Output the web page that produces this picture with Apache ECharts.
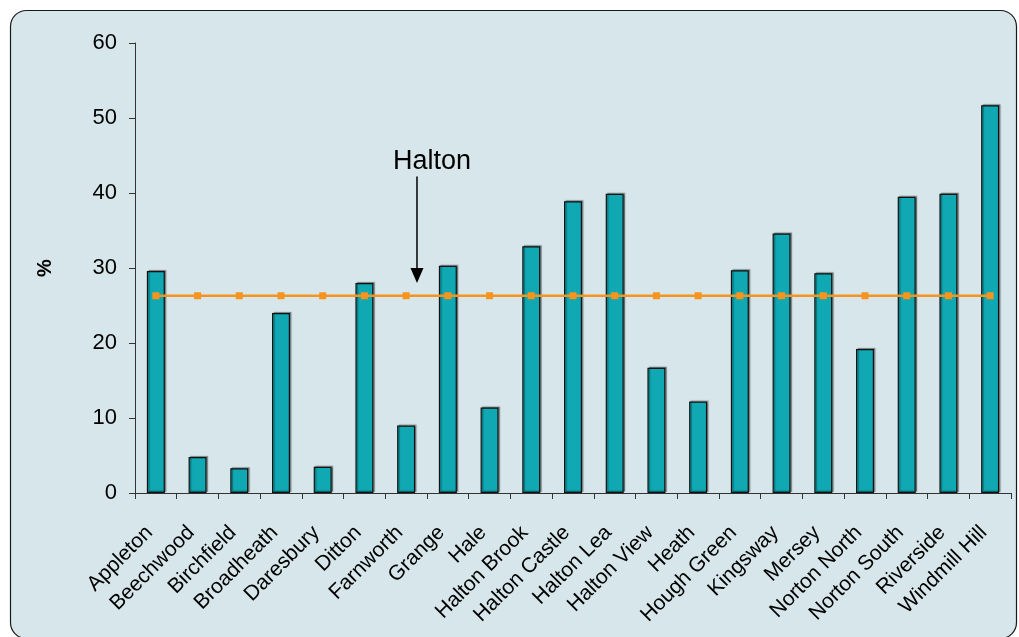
<!DOCTYPE html>
<html>
<head>
<meta charset="utf-8">
<script src="https://cdn.jsdelivr.net/npm/echarts@6/dist/echarts.min.js"></script>
<style>
html,body{margin:0;padding:0;background:#ffffff;}
#chart{width:1019px;height:637px;}
</style>
</head>
<body>
<div id="chart"></div>
<script>
const categories = ['Appleton','Beechwood','Birchfield','Broadheath','Daresbury','Ditton','Farnworth','Grange','Hale','Halton Brook','Halton Castle','Halton Lea','Halton View','Heath','Hough Green','Kingsway','Mersey','Norton North','Norton South','Riverside','Windmill Hill'];
const wardValues = [29.6,4.8,3.3,24.0,3.5,28.0,9.0,30.3,11.4,32.9,38.9,39.9,16.7,12.2,29.7,34.6,29.3,19.2,39.5,39.9,51.7];
const haltonAverage = 26.3;
const haltonValues = categories.map(() => haltonAverage);
const yTicks = { min: 0, max: 60, interval: 10 };
const annotation = { text: 'Halton', category: 'Farnworth', arrowTop: 42.2, arrowBottom: 28, textValue: 44.2 };

const chart = echarts.init(document.getElementById('chart'), null, { renderer: 'canvas' });
const font = 'Liberation Sans, Arial, sans-serif';

chart.setOption({
  backgroundColor: '#ffffff',
  animation: false,
  grid: { left: 135, right: 8, top: 43, bottom: 144, containLabel: false },
  xAxis: {
    type: 'category',
    data: categories,
    axisLine: { lineStyle: { color: '#333333', width: 1 } },
    axisTick: { show: true, length: 6, alignWithLabel: false, lineStyle: { color: '#333333' } },
    axisLabel: { rotate: 45, interval: 0, margin: 30, padding: [0, 9, 0, 0], color: '#000000', fontSize: 21, fontFamily: font }
  },
  yAxis: {
    type: 'value',
    min: yTicks.min, max: yTicks.max, interval: yTicks.interval,
    name: '%',
    nameLocation: 'middle',
    nameGap: 80,
    nameRotate: 90,
    nameTextStyle: { color: '#000000', fontSize: 20, fontWeight: 'bold', fontFamily: font },
    axisLine: { show: true, lineStyle: { color: '#333333', width: 1 } },
    axisTick: { show: true, length: 6, inside: false, lineStyle: { color: '#333333' } },
    splitLine: { show: false },
    axisLabel: { color: '#000000', fontSize: 22, fontFamily: font, margin: 18 }
  },
  series: [
    {
      type: 'bar',
      data: wardValues,
      barWidth: 18,
      itemStyle: {
        color: '#0fa8b3',
        borderColor: '#111111',
        borderWidth: 1.2,
        shadowColor: 'rgba(0,0,0,0.35)',
        shadowOffsetX: 1.5,
        shadowOffsetY: -1,
        shadowBlur: 1
      },
      z: 2
    },
    {
      type: 'line',
      data: haltonValues,
      symbol: 'rect',
      symbolSize: 7,
      lineStyle: { color: '#f7941d', width: 2.5 },
      itemStyle: { color: '#f7941d' },
      z: 3
    }
  ]
});

function drawExtras() {
  const x0 = chart.convertToPixel({ xAxisIndex: 0 }, annotation.category);
  const x1 = chart.convertToPixel({ xAxisIndex: 0 }, categories[categories.indexOf(annotation.category) + 1]);
  const ax = x0 + (x1 - x0) * 0.26;
  const yTop = chart.convertToPixel({ yAxisIndex: 0 }, annotation.arrowTop);
  const yBot = chart.convertToPixel({ yAxisIndex: 0 }, annotation.arrowBottom);
  const yText = chart.convertToPixel({ yAxisIndex: 0 }, annotation.textValue);
  chart.setOption({
    graphic: [
      {
        type: 'rect', z: -10, silent: true,
        shape: { x: 10.5, y: 10.5, width: 1006, height: 628, r: 16 },
        style: { fill: '#d6e6ea', stroke: '#1a1a1a', lineWidth: 1.2 }
      },
      {
        type: 'line', z: 10, silent: true,
        shape: { x1: ax, y1: yTop, x2: ax, y2: yBot - 12 },
        style: { stroke: '#000000', lineWidth: 1.5 }
      },
      {
        type: 'polygon', z: 10, silent: true,
        shape: { points: [[ax - 6.5, yBot - 15], [ax + 6.5, yBot - 15], [ax, yBot]] },
        style: { fill: '#000000' }
      },
      {
        type: 'text', z: 10, silent: true,
        x: ax + 15, y: yText,
        style: { text: annotation.text, fill: '#000000', font: '27px ' + font, textAlign: 'center', textVerticalAlign: 'middle' }
      }
    ]
  });
}
drawExtras();
</script>
</body>
</html>
